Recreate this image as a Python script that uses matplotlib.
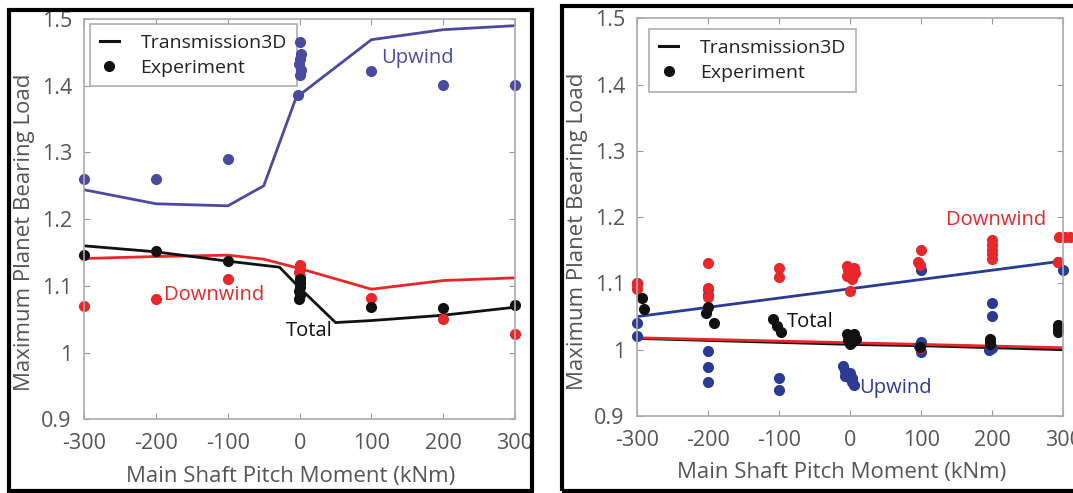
import numpy as np
import matplotlib
matplotlib.use('Agg')
import matplotlib.pyplot as plt
from matplotlib.lines import Line2D
from matplotlib.patches import Rectangle

plt.rcParams['font.family'] = ['Open Sans', 'DejaVu Sans']
plt.rcParams['axes.unicode_minus'] = False

W, H = 1073, 493

# left panel: model curves
l_up_x = [-300, -200, -100, -50, -5, 100, 200, 300]
l_up_y = [1.244, 1.223, 1.220, 1.250, 1.382, 1.469, 1.484, 1.490]
l_tot_x = [-300, -200, -100, -28, 0, 50, 100, 200, 300]
l_tot_y = [1.160, 1.151, 1.137, 1.128, 1.097, 1.045, 1.048, 1.056, 1.068]
l_down_x = [-300, -200, -100, -50, 0, 100, 200, 300]
l_down_y = [1.141, 1.144, 1.146, 1.140, 1.126, 1.095, 1.108, 1.112]

# left panel: experiment points
l_up_px = [-300, -200, -100, 0, 2, 1, -1, 2, 0, -2, 100, 200, 300]
l_up_py = [1.260, 1.260, 1.290, 1.466, 1.448, 1.440, 1.432, 1.424, 1.416, 1.386, 1.422, 1.401, 1.401]
l_tot_px = [-300, -200, -100, 0, 1, 0, -1, 0, -1, 100, 200, 300]
l_tot_py = [1.146, 1.152, 1.138, 1.110, 1.104, 1.098, 1.092, 1.086, 1.080, 1.069, 1.067, 1.071]
l_down_px = [-300, -200, -100, 0, 0, -1, 0, 100, 200, 300]
l_down_py = [1.070, 1.080, 1.110, 1.131, 1.126, 1.121, 1.114, 1.082, 1.050, 1.028]

# right panel: model curves
r_x = [-300, -200, -100, 0, 100, 200, 300]
r_up_y = [1.050, 1.064, 1.078, 1.092, 1.106, 1.120, 1.134]
r_down_y = [1.018, 1.0155, 1.013, 1.0105, 1.008, 1.0055, 1.003]
r_tot_y = [1.017, 1.014, 1.011, 1.008, 1.006, 1.003, 1.000]

# right panel: experiment points
r_up_px = [-300, -300, -300, -200, -200, -200, -200, -200, -100, -100,
           -10, -7, -4, -1, 2, 5, -8, 0, 3, 100, 100, 97, 100, 199, 199, 196, 199, 293, 300]
r_up_py = [1.101, 1.041, 1.021, 1.092, 1.082, 0.998, 0.974, 0.952, 0.958, 0.939,
           0.975, 0.968, 0.962, 0.957, 0.952, 0.947, 0.960, 0.965, 0.958, 1.120, 1.012, 1.005, 0.997,
           1.070, 1.051, 0.999, 1.002, 1.132, 1.120]
r_down_px = [-300, -300, -300, -200, -200, -200, -100, -100,
             -5, 5, -3, 7, -5, 3, 0, 100, 96, 98, 98, 199, 199, 199, 199, 199,
             294, 302, 310, 293]
r_down_py = [1.101, 1.097, 1.091, 1.131, 1.093, 1.080, 1.123, 1.110,
             1.126, 1.124, 1.120, 1.116, 1.111, 1.106, 1.088, 1.150, 1.132, 1.128, 1.003,
             1.165, 1.158, 1.151, 1.144, 1.137, 1.170, 1.170, 1.170, 1.132]
r_tot_px = [-293, -290, -203, -200, -192, -109, -103, -98,
            -5, 0, 5, -3, 3, 0, 8, 98, 197, 197, 197, 292, 292, 292]
r_tot_py = [1.078, 1.061, 1.056, 1.064, 1.040, 1.046, 1.036, 1.026,
            1.024, 1.020, 1.024, 1.014, 1.012, 1.008, 1.016, 1.004, 1.016, 1.012, 1.008,
            1.037, 1.032, 1.026]

x_ticks = [-300, -200, -100, 0, 100, 200, 300]
y_ticks = [0.9, 1.0, 1.1, 1.2, 1.3, 1.4, 1.5]

RED = '#e8272a'
BLACK = '#111111'
BLUE_L = '#4a4aa0'
BLUE_R = '#2b3a92'
GREY = '#555555'


def px_axes(fig, left, top, right, bottom):
    return fig.add_axes([left / W, (H - bottom) / H, (right - left) / W, (bottom - top) / H])


def style_axes(ax, ylab_y, legend_box):
    ax.set_xlim(-300, 300)
    ax.set_ylim(0.9, 1.5)
    ax.set_xticks(x_ticks)
    ax.set_xticklabels([str(v) for v in x_ticks])
    ax.set_yticks(y_ticks)
    ax.set_yticklabels(['%g' % v for v in y_ticks])
    ax.tick_params(direction='in', length=4, width=0.8, color='#999999',
                   top=True, right=True, labelcolor=GREY, labelsize=15.5)
    ax.tick_params(axis='x', pad=10)
    ax.tick_params(axis='y', pad=9)
    for s in ax.spines.values():
        s.set_color('#aaaaaa')
        s.set_linewidth(1.2)
    ax.set_xlabel('Main Shaft Pitch Moment (kNm)', fontsize=16, color=GREY)
    ax.set_ylabel('Maximum Planet Bearing Load', fontsize=16, color=GREY)
    ax.xaxis.set_label_coords(0.48, -0.142)
    ax.xaxis.label.set_va('center')
    ax.yaxis.set_label_coords(-0.14, ylab_y)
    ax.yaxis.label.set_va('center')
    handles = [Line2D([], [], color=BLACK, lw=2.2),
               Line2D([], [], color=BLACK, lw=0, marker='o', markersize=7)]
    leg = ax.legend(handles, ['Transmission3D', 'Experiment'], loc='upper left',
                    bbox_to_anchor=legend_box, fontsize=14, frameon=True, fancybox=False,
                    edgecolor='#999999', handlelength=1.0, handletextpad=1.1,
                    borderpad=0.5, labelspacing=0.35, borderaxespad=0)
    leg.get_frame().set_linewidth(1.2)
    leg.set_zorder(1.5)
    for t in leg.get_texts():
        t.set_color('#222222')


fig = plt.figure(figsize=(W / 100, H / 100), dpi=100)

# left panel
ax1 = px_axes(fig, 84.3, 19, 515, 419.3)
ax1.plot(l_up_x, l_up_y, color=BLUE_L, lw=2)
ax1.plot(l_down_x, l_down_y, color=RED, lw=2)
ax1.plot(l_tot_x, l_tot_y, color=BLACK, lw=2)
ax1.plot(l_up_px, l_up_py, 'o', color=BLUE_L, ms=7, clip_on=False)
ax1.plot(l_down_px, l_down_py, 'o', color=RED, ms=7, clip_on=False)
ax1.plot(l_tot_px, l_tot_py, 'o', color=BLACK, ms=7, clip_on=False)
ax1.text(114, 1.442, 'Upwind', color=BLUE_L, fontsize=14.5, va='center')
ax1.text(-189, 1.086, 'Downwind', color=RED, fontsize=14.5, va='center')
ax1.text(-19, 1.033, 'Total', color=BLACK, fontsize=14.5, va='center')
style_axes(ax1, 0.468, (0.013, 0.987))

# right panel
ax2 = px_axes(fig, 637.3, 18.3, 1063.3, 416)
ax2.plot(r_x, r_up_y, color=BLUE_R, lw=2)
ax2.plot(r_x, r_tot_y, color=BLACK, lw=2)
ax2.plot(r_x, r_down_y, color=RED, lw=2)
ax2.plot(r_up_px, r_up_py, 'o', color=BLUE_R, ms=7, clip_on=False)
ax2.plot(r_down_px, r_down_py, 'o', color=RED, ms=7, clip_on=False)
ax2.plot(r_tot_px, r_tot_py, 'o', color=BLACK, ms=7, clip_on=False)
ax2.text(135, 1.196, 'Downwind', color=RED, fontsize=14.5, va='center')
ax2.text(-90, 1.042, 'Total', color=BLACK, fontsize=14.5, va='center')
ax2.text(13, 0.942, 'Upwind', color=BLUE_R, fontsize=14.5, va='center')
style_axes(ax2, 0.465, (0.028, 0.972))

# white gap between panels, then black picture frames on top
fig.add_artist(Rectangle((533 / W, 0), (560 - 533) / W, 1, transform=fig.transFigure,
                         facecolor='white', edgecolor='none', zorder=20))
fig.add_artist(Rectangle((9 / W, (H - 490.5) / H), (531.5 - 9) / W, (490.5 - 10) / H,
                         transform=fig.transFigure, facecolor='none', edgecolor='black',
                         lw=3, zorder=21))
fig.add_artist(Rectangle((562 / W, (H - 490.5) / H), (1080 - 562) / W, (490.5 - 5.7) / H,
                         transform=fig.transFigure, facecolor='none', edgecolor='black',
                         lw=3, zorder=21, clip_on=False))

fig.savefig('out.png', dpi=100)
